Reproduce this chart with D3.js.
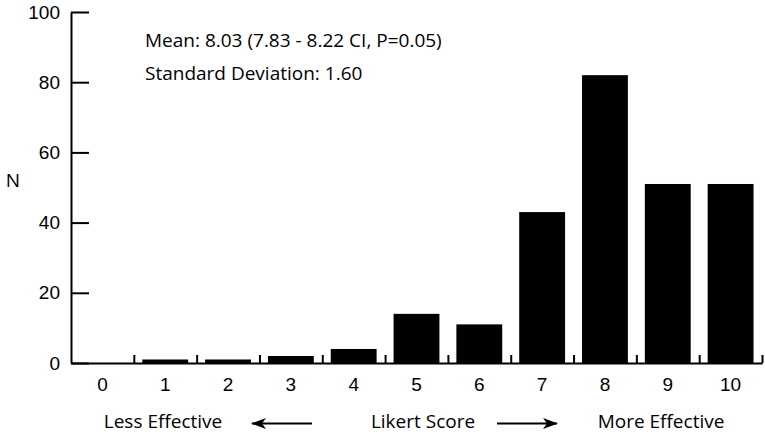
<!DOCTYPE html>
<html>
<head>
<meta charset="utf-8">
<script src="https://cdn.jsdelivr.net/npm/d3@7"></script>
<style>
  body { margin: 0; background: #fff; }
  svg { display: block; font-family: "Open Sans", "Lato", sans-serif; }
</style>
</head>
<body>
<div class="chart"></div>
<script>
const scores = [0, 1, 2, 3, 4, 5, 6, 7, 8, 9, 10];
const counts = [0, 1, 1, 2, 4, 14, 11, 43, 82, 51, 51];
const yTicks = [0, 20, 40, 60, 80, 100];
const statLines = ["Mean: 8.03 (7.83 - 8.22 CI, P=0.05)", "Standard Deviation: 1.60"];
const bottomLabels = ["Less Effective", "Likert Score", "More Effective"];

const width = 765;
const height = 435;
const margin = { top: 12, right: 3, bottom: 72, left: 71 };
const fontSize = "19px";

const svg = d3.select(".chart")
  .append("svg")
  .attr("width", width)
  .attr("height", height);

const x = d3.scaleBand()
  .domain(scores)
  .range([margin.left, width - margin.right])
  .paddingInner(0.27)
  .paddingOuter(0.135);

// continuous scale for the boundary ticks between bins
const xEdge = d3.scaleLinear()
  .domain([-0.5, 10.5])
  .range([margin.left, width - margin.right]);

const y = d3.scaleLinear()
  .domain([0, 100])
  .range([height - margin.bottom, margin.top]);

svg.append("g")
  .selectAll("rect")
  .data(scores.map((s, i) => ({ score: s, n: counts[i] })).filter((d) => d.n > 0))
  .join("rect")
  .attr("x", (d) => x(d.score))
  .attr("width", x.bandwidth())
  .attr("y", (d) => y(d.n))
  .attr("height", (d) => y(0) - y(d.n))
  .attr("fill", "#000");

// y axis, ticks pointing inward
svg.append("g")
  .attr("transform", `translate(${margin.left},0)`)
  .call(d3.axisLeft(y).tickValues(yTicks).tickSize(-18).tickSizeOuter(0).tickPadding(11))
  .call((g) => g.select(".domain").attr("stroke-width", 2))
  .call((g) => g.selectAll(".tick line").attr("stroke-width", 2))
  .call((g) => g.selectAll("text").style("font-size", fontSize).attr("fill", "#000").attr("font-family", null));

// x axis line with boundary ticks
svg.append("g")
  .attr("transform", `translate(0,${y(0)})`)
  .call(d3.axisBottom(xEdge).tickValues(d3.range(0.5, 11, 1)).tickSize(-8).tickSizeOuter(0).tickFormat(""))
  .call((g) => g.select(".domain").attr("stroke-width", 2))
  .call((g) => g.selectAll(".tick line").attr("stroke-width", 2));

// category labels
svg.append("g")
  .attr("transform", `translate(0,${y(0)})`)
  .call(d3.axisBottom(x).tickSize(0).tickPadding(15))
  .call((g) => g.select(".domain").remove())
  .call((g) => g.selectAll("text").style("font-size", fontSize).attr("fill", "#000").attr("font-family", null));

svg.append("text")
  .attr("x", 13)
  .attr("y", y(52))
  .attr("text-anchor", "middle")
  .attr("dy", "0.35em")
  .style("font-size", fontSize)
  .text("N");

svg.selectAll(".stat")
  .data(statLines)
  .join("text")
  .attr("class", "stat")
  .attr("x", 145)
  .attr("y", (d, i) => 47 + i * 33)
  .style("font-size", fontSize)
  .text((d) => d);

const labelY = 428;
svg.append("text").attr("x", 163).attr("y", labelY).attr("text-anchor", "middle")
  .style("font-size", fontSize).text(bottomLabels[0]);
svg.append("text").attr("x", 423).attr("y", labelY).attr("text-anchor", "middle")
  .style("font-size", fontSize).text(bottomLabels[1]);
svg.append("text").attr("x", 661).attr("y", labelY).attr("text-anchor", "middle")
  .style("font-size", fontSize).text(bottomLabels[2]);

svg.append("defs").append("marker")
  .attr("id", "head")
  .attr("viewBox", "0 0 15 11")
  .attr("refX", 14)
  .attr("refY", 5.5)
  .attr("markerWidth", 15)
  .attr("markerHeight", 11)
  .attr("markerUnits", "userSpaceOnUse")
  .attr("orient", "auto")
  .append("path")
  .attr("d", "M0,0 L15,5.5 L0,11 L4,5.5 Z")
  .attr("fill", "#000");

const arrowY = 423.5;
[[312, 252], [497, 557]].forEach(([x1, x2]) => {
  svg.append("line")
    .attr("x1", x1).attr("x2", x2)
    .attr("y1", arrowY).attr("y2", arrowY)
    .attr("stroke", "#000")
    .attr("stroke-width", 2)
    .attr("marker-end", "url(#head)");
});
</script>
</body>
</html>
